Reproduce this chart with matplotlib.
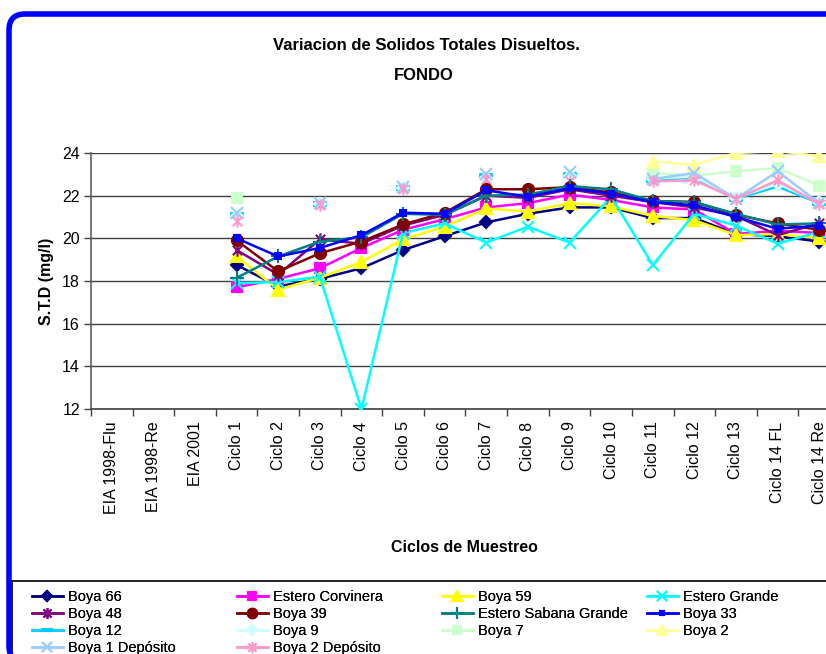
import numpy as np
import matplotlib
matplotlib.use("Agg")
import matplotlib.pyplot as plt
from matplotlib.path import Path
from matplotlib.patches import FancyBboxPatch, Rectangle
from matplotlib.transforms import IdentityTransform

plt.rcParams['font.family'] = ['Liberation Sans Narrow', 'Liberation Sans', 'DejaVu Sans']

nan = np.nan
categories = ["EIA 1998-Flu", "EIA 1998-Re", "EIA 2001", "Ciclo 1", "Ciclo 2", "Ciclo 3",
              "Ciclo 4", "Ciclo 5", "Ciclo 6", "Ciclo 7", "Ciclo 8", "Ciclo 9", "Ciclo 10",
              "Ciclo 11", "Ciclo 12", "Ciclo 13", "Ciclo 14 FL", "Ciclo 14 Re"]

boya_66 =      [nan, nan, nan, 18.75, 17.75, 18.1, 18.6, 19.45, 20.1, 20.75, 21.15, 21.45, 21.45, 20.95, 20.95, 20.2, 20.1, 19.85]
estero_corv =  [nan, nan, nan, 17.7, 18.1, 18.6, 19.55, 20.4, 20.9, 21.45, 21.65, 22.05, 21.8, 21.45, 21.35, 20.2, 20.35, 20.25]
boya_59 =      [nan, nan, nan, 19.15, 17.6, 18.15, 18.9, 19.95, 20.55, 21.4, 21.25, 21.65, 21.5, 21.05, 20.85, 20.15, 20.2, 20.0]
estero_grande =[nan, nan, nan, 17.9, 17.95, 18.2, 12.0, 20.25, 20.7, 19.8, 20.55, 19.8, 21.95, 18.75, 21.15, 20.6, 19.75, 20.3]
boya_48 =      [nan, nan, nan, 19.45, 18.3, 19.95, 19.75, 20.6, 21.1, 22.0, 21.9, 22.3, 22.0, 21.7, 21.45, 21.05, 20.15, 20.7]
boya_39 =      [nan, nan, nan, 19.9, 18.45, 19.3, 19.85, 20.65, 21.2, 22.3, 22.3, 22.4, 22.15, 21.75, 21.7, 21.1, 20.7, 20.4]
estero_sabana =[nan, nan, nan, 18.15, 19.15, 19.85, 20.05, 21.15, 21.1, 22.0, 22.05, 22.45, 22.3, 21.75, 21.7, 21.15, 20.65, 20.7]
boya_33 =      [nan, nan, nan, 20.0, 19.15, 19.55, 20.15, 21.2, 21.15, 22.25, 21.95, 22.35, 22.1, 21.7, 21.55, 21.0, 20.45, 20.6]
boya_12 =      [nan, nan, nan, 21.1, nan, 21.6, nan, 22.35, nan, 22.9, nan, 22.95, nan, 22.74, 22.85, 21.85, 22.43, 21.65]
boya_9 =       [nan, nan, nan, 21.05, nan, 21.6, nan, 22.35, nan, 22.85, nan, 22.9, nan, 22.8, 22.9, 21.9, 22.55, 21.7]
boya_7 =       [nan, nan, nan, 21.9, nan, nan, nan, nan, nan, nan, nan, nan, nan, 23.06, 22.94, 23.14, 23.3, 22.47]
boya_2 =       [nan, nan, nan, nan, nan, nan, nan, nan, nan, nan, nan, nan, nan, 23.6, 23.45, 24.0, 24.1, 23.85]
boya_1_dep =   [nan, nan, nan, 21.2, nan, 21.65, nan, 22.4, nan, 23.0, nan, 23.1, nan, 22.78, 23.06, 21.85, 23.14, 21.65]
boya_2_dep =   [nan, nan, nan, 20.8, nan, 21.55, nan, 22.3, nan, 22.8, nan, 22.7, nan, 22.67, 22.72, 21.85, 22.72, 21.6]

# custom markers
asterisk = Path([(0, -1), (0, 1), (-0.75, -0.75), (0.75, 0.75), (-0.75, 0.75), (0.75, -0.75)],
                [Path.MOVETO, Path.LINETO, Path.MOVETO, Path.LINETO, Path.MOVETO, Path.LINETO])
dash = Path([(-1, -0.3), (1, -0.3), (1, 0.3), (-1, 0.3), (-1, -0.3)],
            [Path.MOVETO, Path.LINETO, Path.LINETO, Path.LINETO, Path.CLOSEPOLY])

series = [
    ("Boya 66", boya_66, "#000080", "D", 6),
    ("Estero Corvinera", estero_corv, "#FF00FF", "s", 7),
    ("Boya 59", boya_59, "#FFFF00", "^", 8),
    ("Estero Grande", estero_grande, "#00FFFF", "x", 8),
    ("Boya 48", boya_48, "#800080", asterisk, 9),
    ("Boya 39", boya_39, "#800000", "o", 8),
    ("Estero Sabana Grande", estero_sabana, "#008080", "+", 10),
    ("Boya 33", boya_33, "#0000FF", "s", 4),
    ("Boya 12", boya_12, "#00CCFF", dash, 8),
    ("Boya 9", boya_9, "#CCFFFF", "D", 6),
    ("Boya 7", boya_7, "#CCFFCC", "s", 7),
    ("Boya 2", boya_2, "#FFFF99", "^", 8),
    ("Boya 1 Depósito", boya_1_dep, "#99CCFF", "x", 8),
    ("Boya 2 Depósito", boya_2_dep, "#FF99CC", asterisk, 9),
]

W, H = 826, 654
fig = plt.figure(figsize=(W / 100, H / 100), dpi=100)

ax_left, ax_right, ax_top, ax_bottom = 91, 840, 153, 409
ax = fig.add_axes([ax_left / W, 1 - ax_bottom / H, (ax_right - ax_left) / W, (ax_bottom - ax_top) / H])

x = np.arange(len(categories))
handles = {}
draw_order = list(range(8, 14)) + list(range(0, 8))
for i in draw_order:
    name, vals, col, mk, ms = series[i]
    ln, = ax.plot(x, vals, color=col, lw=1.8, marker=mk, markersize=ms,
                  markerfacecolor=col, markeredgecolor=col, markeredgewidth=1.5,
                  label=name, zorder=3 + (i < 8))
    handles[name] = ln

ax.set_xlim(-0.5, len(categories) - 0.5)
ax.set_ylim(12, 24)
ax.set_yticks(np.arange(12, 25, 2))
ax.set_xticks(x)
ax.set_xticklabels(categories, rotation=90, fontsize=11.5, fontfamily=['Liberation Sans', 'DejaVu Sans'])
ax.set_xticks(np.arange(-0.5, len(categories), 1), minor=True)
ax.tick_params(axis='x', which='major', length=0, pad=9)
ax.tick_params(axis='x', which='minor', length=5, width=1, color='#404040')
ax.tick_params(axis='y', length=5, width=1, color='#404040', labelsize=11.5, pad=3)
ax.yaxis.grid(True, color='#404040', lw=1)
ax.set_axisbelow(True)
for s in ['top', 'right']:
    ax.spines[s].set_visible(False)
ax.spines['left'].set_color('#606060')
ax.spines['bottom'].set_color('#404040')
ax.spines['left'].set_linewidth(1.2)
ax.spines['bottom'].set_linewidth(1.2)

ax.set_ylabel("S.T.D (mg/l)", fontsize=11.5, fontweight='bold', labelpad=6)
fig.text(464 / W, 1 - 548 / H, "Ciclos de Muestreo", fontsize=11.5, fontweight='bold',
         ha='center', va='center')
fig.text(426 / W, 1 - 46 / H, "Variacion de Solidos Totales Disueltos.", fontsize=12,
         fontweight='bold', ha='center', va='center')
fig.text(424 / W, 1 - 75 / H, "FONDO", fontsize=12, fontweight='bold', ha='center', va='center')

# legend frame
fig.add_artist(Rectangle((12, -10), 900, H - 581 + 10, transform=IdentityTransform(),
                         fill=False, ec='black', lw=1.2))
columns = [["Boya 66", "Boya 48", "Boya 12", "Boya 1 Depósito"],
           ["Estero Corvinera", "Boya 39", "Boya 9", "Boya 2 Depósito"],
           ["Boya 59", "Estero Sabana Grande", "Boya 7"],
           ["Estero Grande", "Boya 33", "Boya 2"]]
col_x = [32, 237, 442, 647]
for names, cx in zip(columns, col_x):
    leg = fig.legend([handles[n] for n in names], names, ncol=1, loc='upper left',
                     bbox_to_anchor=(cx / W, 1 - 590 / H), frameon=False,
                     handlelength=2.1, handletextpad=0.35, markerscale=0.85,
                     labelspacing=0.2, borderaxespad=0, borderpad=0,
                     prop={'family': ['Liberation Sans', 'DejaVu Sans'], 'size': 10.5})
    fig.add_artist(leg)

# blue rounded border
fig.add_artist(FancyBboxPatch((9, -8), 900, H - 14 + 8, boxstyle="round,pad=0,rounding_size=16",
                              transform=IdentityTransform(), fill=False, ec='#0000FF', lw=4))

fig.savefig("out.png", dpi=100)
